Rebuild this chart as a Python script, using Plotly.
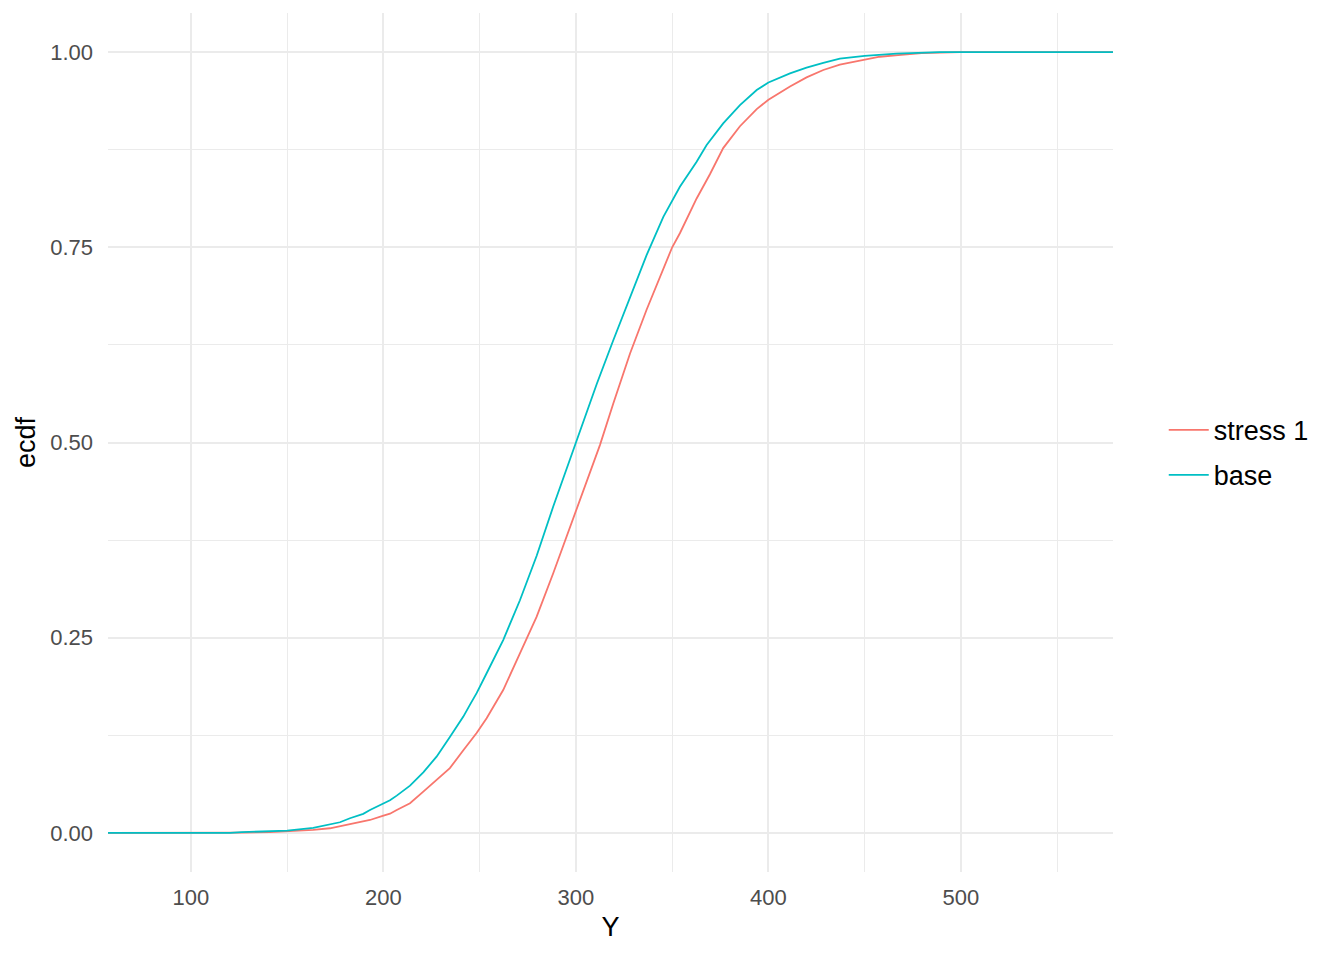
import plotly.graph_objects as go

# ECDF readings (Y value, cumulative proportion)
base_y = [120.3, 126.3, 141, 150, 163.5, 172.2, 177.4, 182.6, 189.5, 193.0, 199.6, 203.4, 206.9,
          213.8, 220.7, 227.6, 234.5, 241.5, 244.9, 248.4, 253.6, 262.2, 270.9, 279.6, 288.2,
          296.9, 300, 304.7, 310.8, 319.4, 328.1, 336.7, 345.4, 354.0, 362.7, 367.9, 376.5,
          385.2, 393.9, 400, 411.2, 419.8, 428.5, 437.1, 450, 466.6, 489, 555]
base_ecdf = [0.0, 0.001, 0.002, 0.003, 0.0064, 0.0115, 0.0137, 0.0188, 0.0245, 0.0294, 0.0367, 0.0418, 0.0478,
             0.0606, 0.0777, 0.0977, 0.123, 0.149, 0.164, 0.179, 0.2045, 0.247, 0.298, 0.355, 0.418,
             0.478, 0.5, 0.533, 0.575, 0.631, 0.687, 0.740, 0.789, 0.8275, 0.8595, 0.881, 0.9087,
             0.932, 0.9513, 0.961, 0.9727, 0.980, 0.986, 0.9915, 0.995, 0.998, 1.0, 1.0]

stress_y = [120.3, 126.3, 141, 150, 163.5, 172.2, 177.4, 182.6, 189.5, 193.0, 199.6, 203.4, 206.9,
            213.8, 220.7, 227.6, 234.5, 241.5, 248.4, 253.6, 262.2, 270.9, 279.6, 288.2, 296.9,
            305.6, 312.5, 319.4, 328.1, 336.7, 345.4, 350, 354.0, 362.7, 369.6, 376.5, 385.2,
            393.9, 400, 411.2, 419.8, 428.5, 437.1, 450, 457.9, 467.4, 479.6, 499.5]
stress_ecdf = [0.0, 0.0005, 0.001, 0.002, 0.004, 0.006, 0.0085, 0.011, 0.0145, 0.0166, 0.0218, 0.0247, 0.0294,
               0.038, 0.053, 0.068, 0.083, 0.106, 0.128, 0.147, 0.183, 0.230, 0.277, 0.3325, 0.392,
               0.452, 0.497, 0.550, 0.614, 0.670, 0.721, 0.75, 0.768, 0.8125, 0.8435, 0.877, 0.905,
               0.927, 0.939, 0.956, 0.9675, 0.977, 0.984, 0.990, 0.994, 0.996, 0.9985, 1.0]

series_names = ["stress 1", "base"]
series_colors = ["#F8766D", "#00BFC4"]

x_range = [56.9, 579.0]
y_range = [-0.05, 1.05]

x_ticks = [100, 200, 300, 400, 500]
x_minor = [150, 250, 350, 450, 550]
y_ticks = [0.0, 0.25, 0.5, 0.75, 1.0]
y_tick_text = ["0.00", "0.25", "0.50", "0.75", "1.00"]
y_minor = [0.125, 0.375, 0.625, 0.875]

FONT = "Liberation Sans, Arial, sans-serif"

fig = go.Figure()
for name, color, xs, fs in [
    (series_names[0], series_colors[0], stress_y, stress_ecdf),
    (series_names[1], series_colors[1], base_y, base_ecdf),
]:
    # pad to -Inf / +Inf like stat_ecdf(pad = TRUE)
    px = [x_range[0]] + xs + [x_range[1]]
    pf = [0.0] + fs + [1.0]
    fig.add_trace(go.Scatter(x=px, y=pf, mode="lines", name=name, legendgroup=name,
                             line=dict(color=color, width=1.8)))

grid = "#EBEBEB"
fig.update_layout(
    width=1344, height=960,
    margin=dict(l=108, r=231, t=13, b=88),
    paper_bgcolor="white", plot_bgcolor="white",
    font=dict(family=FONT, size=27, color="black"),
    showlegend=True,
    legend=dict(x=1.0505, y=0.488, xanchor="left", yanchor="middle",
                font=dict(size=27, color="black"), bgcolor="rgba(0,0,0,0)",
                itemwidth=40, traceorder="grouped", tracegroupgap=7),
    xaxis=dict(range=x_range, tickvals=x_ticks, showgrid=True, gridcolor=grid, gridwidth=1.6,
               zeroline=False, showline=False, ticks="",
               tickfont=dict(size=22, color="#4D4D4D"), ticklabelstandoff=10,
               minor=dict(tickvals=x_minor, showgrid=True, gridcolor=grid, gridwidth=0.8),
               title=dict(text="Y", font=dict(size=27, color="black"), standoff=8)),
    yaxis=dict(range=y_range, tickvals=y_ticks, ticktext=y_tick_text, showgrid=True, gridcolor=grid,
               gridwidth=1.6, zeroline=False, showline=False, ticks="",
               tickfont=dict(size=22, color="#4D4D4D"), ticklabelstandoff=14,
               minor=dict(tickvals=y_minor, showgrid=True, gridcolor=grid, gridwidth=0.8),
               title=dict(text="ecdf", font=dict(size=27, color="black"), standoff=6)),
)

fig.write_html("out.html")
